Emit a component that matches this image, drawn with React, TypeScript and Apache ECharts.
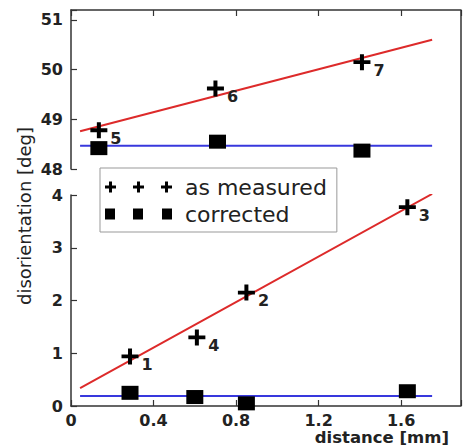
import React, { useEffect, useRef } from "react";
import * as echarts from "echarts";

// ---- data ----
const xTicks = [0, 0.4, 0.8, 1.2, 1.6];

// upper panel (48..51 deg)
const topMeasuredX = [0.135, 0.7, 1.41];
const topMeasuredY = [48.78, 49.62, 50.15];
const topLabels = ["5", "6", "7"];
const topCorrectedX = [0.135, 0.71, 1.41];
const topCorrectedY = [48.42, 48.55, 48.37];
const topFitMeasuredX = [0.044, 1.75];
const topFitMeasuredY = [48.76, 50.6];
const topFitCorrectedX = [0.044, 1.75];
const topFitCorrectedY = [48.47, 48.47];

// lower panel (0..4 deg)
const botMeasuredX = [0.286, 0.61, 0.85, 1.63];
const botMeasuredY = [0.94, 1.3, 2.15, 3.77];
const botLabels = ["1", "4", "2", "3"];
const botCorrectedX = [0.286, 0.6, 0.85, 1.63];
const botCorrectedY = [0.25, 0.17, 0.05, 0.28];
const botFitMeasuredX = [0.044, 1.75];
const botFitMeasuredY = [0.34, 4.02];
const botFitCorrectedX = [0.044, 1.75];
const botFitCorrectedY = [0.19, 0.19];

const CROSS = "path://M6.5,0h4v6.5h6.5v4h-6.5v6.5h-4v-6.5h-6.5v-4h6.5z";
const plusAt = (o: number) => `M${o + 4},0h3v4h4v3h-4v4h-3v-4h-4v-3h4z`;
const sqAt = (o: number) => `M${o},0h10v11h-10z`;
const LEG_PLUS = "path://" + plusAt(0) + plusAt(28) + plusAt(56);
const LEG_SQ = "path://" + sqAt(0) + sqAt(28) + sqAt(57);

const FONT = "DejaVu Sans";
const AXC = "#333";
const TXT = "#222";

const pts = (xs: number[], ys: number[], names?: string[]) =>
  xs.map((x, i) => (names ? { value: [x, ys[i]], name: names[i] } : [x, ys[i]]));

export default function App() {
  const ref = useRef<HTMLDivElement>(null);
  useEffect(() => {
    if (!ref.current) return;
    const chart = echarts.init(ref.current, undefined, { renderer: "svg" });
    const axisLine = { show: true, onZero: false, lineStyle: { color: AXC, width: 1.5 } };
    const axisTick = { show: true, inside: true, length: 6, lineStyle: { color: AXC, width: 1.2 } };
    const labelStyle = { fontFamily: FONT, fontWeight: "bold" as const, fontSize: 16, color: TXT };
    const xFmt = (v: number) => {
      const hit = xTicks.find((t) => Math.abs(t - v) < 1e-6);
      return hit === undefined ? "" : String(hit);
    };
    const yFmt = (v: number) => (Math.abs(v - Math.round(v)) < 1e-6 ? String(Math.round(v)) : "");
    const ptLabel = {
      show: true,
      formatter: "{b}",
      position: "right" as const,
      distance: 3,
      offset: [0, 8],
      ...labelStyle,
    };
    const markStyle = { color: "#000", opacity: 1 };
    const option: any = {
      animation: false,
      backgroundColor: "#fff",
      grid: [
        { left: 71, top: 10, width: 390, height: 159 },
        { left: 71, top: 195, width: 390, height: 211 },
      ],
      xAxis: [
        {
          gridIndex: 0, type: "value", min: 0, max: 1.89, interval: 0.4, position: "top",
          axisLine, axisTick, axisLabel: { show: false }, splitLine: { show: false },
        },
        {
          gridIndex: 1, type: "value", min: 0, max: 1.89, interval: 0.4, position: "bottom",
          axisLine, axisTick, splitLine: { show: false },
          axisLabel: { ...labelStyle, lineHeight: 16, margin: 6, formatter: xFmt },
        },
      ],
      yAxis: [
        {
          gridIndex: 0, type: "value", min: 48, max: 51.2, interval: 1,
          axisLine, axisTick, splitLine: { show: false },
          axisLabel: { ...labelStyle, margin: 8, formatter: yFmt },
        },
        {
          gridIndex: 1, type: "value", min: 0, max: 4, interval: 1,
          axisLine, axisTick, splitLine: { show: false },
          axisLabel: { ...labelStyle, margin: 8, formatter: yFmt },
        },
      ],
      legend: {
        orient: "vertical",
        left: 100,
        top: 168,
        backgroundColor: "#fff",
        borderColor: "#999",
        borderWidth: 1,
        padding: [8, 10, 7, 5],
        itemGap: 5,
        itemWidth: 67,
        itemHeight: 11,
        selectedMode: false,
        data: [
          { name: "as measured", icon: LEG_PLUS },
          { name: "corrected", icon: LEG_SQ },
        ],
        itemStyle: { opacity: 1 },
        textStyle: { fontFamily: FONT, fontSize: 22, lineHeight: 21, color: TXT, padding: [0, 0, 0, 8] },
      },
      series: [
        {
          name: "fit measured top", type: "line", xAxisIndex: 0, yAxisIndex: 0, symbol: "none",
          lineStyle: { color: "#dd2a2a", width: 2 }, data: pts(topFitMeasuredX, topFitMeasuredY), z: 1,
        },
        {
          name: "fit corrected top", type: "line", xAxisIndex: 0, yAxisIndex: 0, symbol: "none",
          lineStyle: { color: "#3838dd", width: 2 }, data: pts(topFitCorrectedX, topFitCorrectedY), z: 1,
        },
        {
          name: "fit measured bottom", type: "line", xAxisIndex: 1, yAxisIndex: 1, symbol: "none",
          lineStyle: { color: "#dd2a2a", width: 2 }, data: pts(botFitMeasuredX, botFitMeasuredY), z: 1,
        },
        {
          name: "fit corrected bottom", type: "line", xAxisIndex: 1, yAxisIndex: 1, symbol: "none",
          lineStyle: { color: "#3838dd", width: 2 }, data: pts(botFitCorrectedX, botFitCorrectedY), z: 1,
        },
        {
          name: "as measured", type: "scatter", xAxisIndex: 0, yAxisIndex: 0, symbol: CROSS,
          symbolSize: [17, 16], itemStyle: markStyle, label: ptLabel,
          data: pts(topMeasuredX, topMeasuredY, topLabels), z: 3,
        },
        {
          name: "corrected", type: "scatter", xAxisIndex: 0, yAxisIndex: 0, symbol: "rect",
          symbolSize: [17, 14], itemStyle: markStyle,
          data: pts(topCorrectedX, topCorrectedY), z: 3,
        },
        {
          name: "as measured", type: "scatter", xAxisIndex: 1, yAxisIndex: 1, symbol: CROSS,
          symbolSize: [17, 16], itemStyle: markStyle, label: ptLabel,
          data: pts(botMeasuredX, botMeasuredY, botLabels), z: 3,
        },
        {
          name: "corrected", type: "scatter", xAxisIndex: 1, yAxisIndex: 1, symbol: "rect",
          symbolSize: [17, 14], itemStyle: markStyle,
          data: pts(botCorrectedX, botCorrectedY), z: 3,
        },
      ],
      graphic: [
        {
          type: "line", shape: { x1: 461, y1: 10, x2: 461, y2: 406 },
          style: { stroke: AXC, lineWidth: 1.5 }, z: 5,
        },
        {
          type: "text", x: 24, y: 216, rotation: Math.PI / 2,
          style: {
            text: "disorientation [deg]", fontFamily: FONT, fontSize: 18, fill: TXT,
            align: "center", verticalAlign: "middle",
          },
        },
        {
          type: "text", x: 449, y: 430,
          style: {
            text: "distance [mm]", fontFamily: FONT, fontWeight: "bold", fontSize: 16.5, lineHeight: 15,
            fill: TXT, align: "right", verticalAlign: "top",
          },
        },
      ],
    };
    chart.setOption(option);
    return () => chart.dispose();
  }, []);
  return (
    <div
      ref={ref}
      style={{ position: "fixed", left: 0, top: 0, width: 465, height: 446, background: "#fff" }}
    />
  );
}
